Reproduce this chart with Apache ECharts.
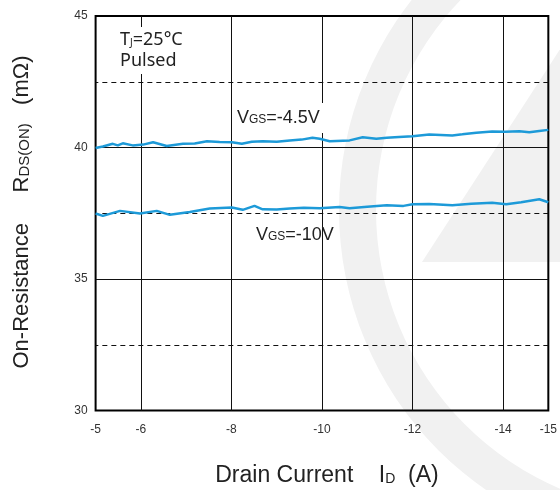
<!DOCTYPE html>
<html>
<head>
<meta charset="utf-8">
<script src="https://cdn.jsdelivr.net/npm/echarts@6/dist/echarts.min.js"></script>
<style>html,body{margin:0;padding:0;background:#fff}#c{width:560px;height:490px}</style>
</head>
<body>
<div id="c"></div>
<script>
// Data
const currentA45 = [-5.00,-5.16,-5.38,-5.49,-5.60,-5.82,-6.05,-6.27,-6.57,-6.93,-7.19,-7.46,-7.74,-8.01,-8.23,-8.45,-8.69,-9.00,-9.29,-9.55,-9.79,-9.95,-10.17,-10.61,-10.90,-11.20,-11.43,-11.70,-12.00,-12.37,-12.88,-13.10,-13.41,-13.76,-14.05,-14.36,-14.58,-14.80,-15.00];
const rds45     = [39.98,40.04,40.14,40.08,40.16,40.08,40.11,40.20,40.06,40.14,40.15,40.24,40.21,40.20,40.14,40.22,40.24,40.22,40.27,40.30,40.37,40.33,40.24,40.27,40.39,40.33,40.37,40.40,40.43,40.49,40.46,40.50,40.56,40.61,40.60,40.62,40.58,40.63,40.67];
const currentA10 = [-5.00,-5.16,-5.54,-5.98,-6.35,-6.64,-7.08,-7.52,-8.01,-8.25,-8.51,-8.69,-9.00,-9.29,-9.60,-9.95,-10.39,-10.61,-11.00,-11.43,-11.80,-12.00,-12.37,-12.88,-13.30,-13.76,-14.07,-14.40,-14.80,-15.00];
const rds10      = [37.49,37.40,37.59,37.49,37.59,37.44,37.55,37.68,37.72,37.63,37.78,37.65,37.64,37.68,37.71,37.69,37.74,37.69,37.75,37.80,37.78,37.84,37.85,37.80,37.86,37.90,37.84,37.92,38.03,37.92];
const xTickLabels = [-5,-6,-8,-10,-12,-14,-15];
const yTickLabels = [30,35,40,45];
const xGridSolid = [-6,-8,-10,-12,-14];
const yGridSolid = [35,40];
const yGridDashed = [32.5,37.5,42.5];

const chart = echarts.init(document.getElementById('c'), null, {renderer:'canvas'});
const pair = (xs, ys) => xs.map((x, i) => [x, ys[i]]);
const gridLineData = [
  ...xGridSolid.map(v => ({xAxis: v, lineStyle: {type: 'solid'}})),
  ...yGridSolid.map(v => ({yAxis: v, lineStyle: {type: 'solid'}})),
  ...yGridDashed.map(v => ({yAxis: v, lineStyle: {type: [5, 4]}}))
];
const WM = '#f1f1f1';
const FF = 'Liberation Sans, Arial, sans-serif';
const sub = (size, pad) => ({fontSize: size, verticalAlign: 'middle', fontFamily: FF, fill: '#222', padding: [pad, 0, 0, 0]});
const option = {
  animation: false,
  backgroundColor: '#fff',
  grid: {left: 95.6, right: 10.6, top: 16, bottom: 79.5, show: true, borderColor: '#000', borderWidth: 2, backgroundColor: 'transparent'},
  xAxis: {
    type: 'value', min: -15, max: -5, inverse: true,
    axisLine: {show: false}, axisTick: {show: false}, splitLine: {show: false},
    axisLabel: {customValues: xTickLabels, margin: 13, fontSize: 12, color: '#333', fontFamily: FF}
  },
  yAxis: {
    type: 'value', min: 30, max: 45, interval: 5,
    axisLine: {show: false}, axisTick: {show: false}, splitLine: {show: false},
    axisLabel: {customValues: yTickLabels, margin: 8, fontSize: 12, color: '#333', fontFamily: FF}
  },
  series: [
    {
      type: 'line', data: pair(currentA45, rds45), showSymbol: false, symbol: 'none', z: 3,
      lineStyle: {color: '#1d9ad8', width: 2.5}, silent: true,
      markLine: {silent: true, symbol: 'none', z: 1, label: {show: false}, lineStyle: {color: '#111', width: 1}, data: gridLineData}
    },
    {
      type: 'line', data: pair(currentA10, rds10), showSymbol: false, symbol: 'none', z: 3,
      lineStyle: {color: '#1d9ad8', width: 2.5}, silent: true
    }
  ],
  graphic: [
    {type: 'ring', z: -10, silent: true, shape: {cx: 679, cy: 210, r: 340, r0: 303}, style: {fill: WM}},
    {type: 'polygon', z: -10, silent: true, shape: {points: [[566, 40], [422, 262], [566, 262]]}, style: {fill: WM}},
    {type: 'text', z: 50, left: 112, top: 27, style: {
      text: 'T{s|J}=25°C\nPulsed', fontSize: 18, lineHeight: 21, fontFamily: 'Noto Sans, sans-serif', fill: '#222',
      backgroundColor: '#fff', padding: [2, 8, 3, 8],
      rich: {s: {fontSize: 10, verticalAlign: 'middle', fontFamily: 'Noto Sans, sans-serif', fill: '#222', padding: [8, 0, 0, 0]}}
    }},
    {type: 'text', z: 50, left: 232, top: 103, style: {
      text: 'V{s|GS}=-4.5V', fontSize: 18, lineHeight: 22, fontFamily: FF, fill: '#222',
      backgroundColor: '#fff', padding: [4, 5, 4, 5],
      rich: {s: sub(12, 4)}
    }},
    {type: 'text', z: 50, left: 256, top: 224, style: {
      text: 'V{s|GS}=-10V', fontSize: 18, lineHeight: 22, fontFamily: FF, fill: '#222',
      rich: {s: sub(12, 4)}
    }},
    {type: 'text', z: 50, x: 327, y: 476, style: {
      text: 'Drain Current    I{s|D}  (A)', fontSize: 23, lineHeight: 28, align: 'center', verticalAlign: 'middle',
      fontFamily: FF, fill: '#222',
      rich: {s: sub(14, 6)}
    }},
    {type: 'text', z: 50, x: 22, y: 212, rotation: Math.PI / 2, style: {
      text: 'On-Resistance     R{s|DS(ON)}   (mΩ)', fontSize: 22, lineHeight: 27, align: 'center', verticalAlign: 'middle',
      fontFamily: FF, fill: '#222',
      rich: {s: sub(15, 5)}
    }}
  ]
};
chart.setOption(option);
</script>
</body>
</html>
